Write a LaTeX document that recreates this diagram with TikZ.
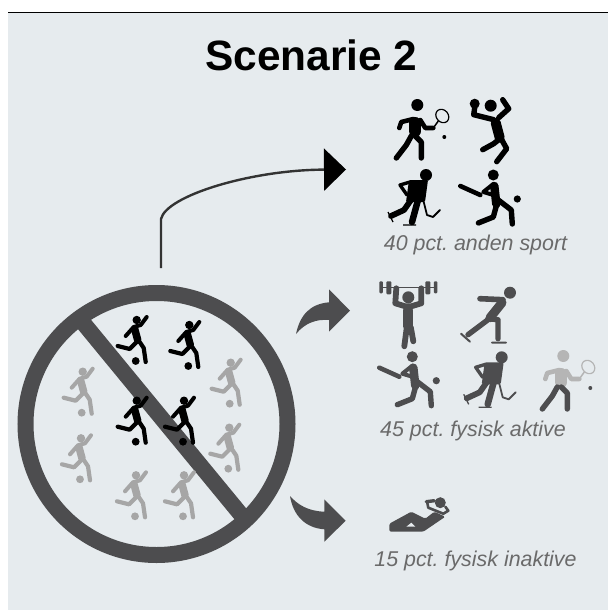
\documentclass[tikz,border=0pt]{standalone}
\usepackage{fontspec}
\setmainfont{Liberation Sans}
\usetikzlibrary{arrows.meta}
\definecolor{panelbg}{HTML}{E6EBEE}
\definecolor{darkgrey}{HTML}{4D4D4F}
\definecolor{midgrey}{HTML}{A6A6A6}
\definecolor{lightgrey}{HTML}{B5B5B5}
\definecolor{labelgrey}{HTML}{6A6A6A}
\tikzset{
  limb/.style={line width=#1,line cap=round,line join=round},
  limb/.default=4.5pt,
  blockarrow/.style={fill=darkgrey,draw=none},
  caption/.style={font=\fontsize{21.4}{25}\selectfont\itshape\frenchspacing,text=labelgrey,anchor=base,inner sep=0pt},
  footballer/.pic={
    \fill[pic actions] (0,0) circle (4.2) (-1,41) circle (3.9);
    \draw[limb=4pt,pic actions] (-11,16) -- (-3,7) -- (4,5) -- (10,-3);
    \draw[limb=7.5pt,pic actions] (-2,9) -- (1,20);
    \draw[limb=4.2pt,pic actions] (-19,26) -- (-7,29) -- (0,22);
    \draw[limb=4.2pt,pic actions] (3,22) -- (7,28) -- (9,42);
  },
  pics/tennis/.style 2 args={code={
    \fill[#1] (0,0) circle (6);
    \draw[limb=12pt,#1] (-2,18) -- (-2,26);
    \draw[limb=4.6pt,#1] (-4,14) -- (-16,17) -- (-18,23);
    \draw[limb=4.6pt,#1] (3,15) -- (8,23) -- (16,23);
    \draw[line width=1.5pt,#1] (16,23) -- (21,16);
    \draw[line width=1.2pt,#1,rotate around={40:(25,11)}] (25,11) ellipse (6 and 7.2);
    \fill[#2] (27,32) circle (2);
    \draw[limb=5.4pt,#2] (-6,31) -- (-11,40) -- (-21,53);
    \draw[limb=5.4pt,#2] (-2,31) -- (4,37) -- (4,53);
  }},
  volley/.pic={
    \fill[pic actions] (0,0) circle (6) (-16,-2) circle (5);
    \draw[limb=5.4pt,pic actions] (3,14) -- (-17,9) -- (-16,2);
    \draw[limb=5.4pt,pic actions] (8,12) -- (18,3) -- (12,-6);
    \draw[limb=10pt,pic actions] (5,17) -- (9,32);
    \draw[limb=5.4pt,pic actions] (8,34) -- (3,38) -- (-8,44);
    \draw[limb=5.4pt,pic actions] (11,34) -- (16,43) -- (6,56);
  },
  hockey/.pic={
    \fill[pic actions] (0,0) circle (6);
    \fill[pic actions,rounded corners=1.5pt] (-17,5) -- (2,5) -- (-1,27) -- (-20,27) -- cycle;
    \draw[limb=3.4pt,pic actions] (-16,7) -- (-26,10) -- (-19,20);
    \draw[limb=5.8pt,pic actions] (-15,25) -- (-22,35) -- (-35,41);
    \draw[limb=6.5pt,pic actions] (-8,25) -- (-14,47);
    \draw[line width=1.3pt,pic actions] (-38,37) -- (-33,47) (-23,50) -- (-10,50);
    \draw[limb=1.8pt,pic actions] (-6,12) -- (1,40) -- (7,42) -- (14,35);
  },
  batter/.pic={
    \fill[pic actions] (0,0) circle (5.5) (24,24) circle (3.6);
    \draw[limb=4.6pt,pic actions] (-33,11) -- (-13,20);
    \draw[limb=4pt,pic actions] (0,9) -- (-10,17) -- (0,20);
    \draw[limb=8.5pt,pic actions] (1,11) -- (3,29);
    \draw[limb=5.4pt,pic actions] (3,31) -- (0,42) -- (-15,48);
    \draw[limb=5.4pt,pic actions] (5,25) -- (18,35) -- (19,49);
  },
  lifter/.pic={
    \fill[pic actions] (0,0) circle (6);
    \draw[line width=1.2pt,pic actions] (-28,-10) -- (29,-10);
    \fill[pic actions,rounded corners=1pt] (-29,-16) rectangle (-25.5,-4) (-22,-16) rectangle (-17,-3)
      (17,-16) rectangle (22,-3) (25.5,-16) rectangle (29,-4);
    \draw[limb=5.8pt,pic actions] (-12,-9) -- (-13,6) -- (-3,9) -- (3,9) -- (13,6) -- (13,-9);
    \draw[limb=10pt,pic actions] (0,13) -- (0,29);
    \draw[limb=5.8pt,pic actions] (-1.5,30) -- (-4,49);
    \draw[limb=5.8pt,pic actions] (2.5,30) -- (5,44);
  },
  skater/.pic={
    \fill[pic actions] (0,0) circle (6);
    \draw[limb=5.6pt,pic actions] (-30,6) -- (-7,7);
    \draw[limb=9pt,pic actions] (-8,10) -- (-20,25);
    \draw[limb=5.4pt,pic actions] (-22,27) -- (-42,42);
    \draw[limb=5.4pt,pic actions] (-22,26) -- (-12,27) -- (-12,46);
    \draw[limb=2pt,pic actions] (-49,41) -- (-40,49) (-18,50) -- (-4,50);
  },
  resting/.pic={
    \fill[pic actions] (0,0) circle (5.5);
    \fill[pic actions,rounded corners=1.5pt] (-51,21) -- (-29,9) -- (-15,16) -- (-6,9) -- (5,14) -- (-17,29) -- (-51,29) -- cycle;
    \fill[panelbg] (-34,24) -- (-29,20) -- (-25,24) -- cycle;
    \draw[limb=2.6pt,pic actions] (-13,0) -- (-12,5) -- (3,11) -- (8,8) -- (5,4);
    \draw[limb=3.4pt,pic actions] (-14,-1) -- (-6,-2);
  },
}
\begin{document}
\begin{tikzpicture}[x=1pt,y=-1pt]
\useasboundingbox (0,0) rectangle (608,610);
\fill[panelbg] (8,13) rectangle (608,610);
\coordinate (topleft) at (8,13);
\coordinate (topright) at (608,13);
\draw[line width=1pt] (topleft) -- (topright);

\node[font=\fontsize{42.4}{50}\selectfont\bfseries,anchor=base,inner sep=0pt] (title) at (311.5,70.3) {Scenarie 2};

% forbidden sign
\draw[darkgrey,line width=16pt] (80,319) -- (245,519.5);
\draw[darkgrey,line width=16pt] (156.5,424) circle (131);

\foreach \px/\py [count=\i] in {82.7/371.7,81/438.3,136/475.3,184/475.3,230.7/362.7,229.3/427.7}
  \pic[color=midgrey] (grey\i) at (\px,\py) {footballer};
\foreach \px/\py [count=\i] in {136.7/320,189.3/325,136.7/400.7,184/400.7}
  \pic[color=black] (black\i) at (\px,\py) {footballer};

% connector
\coordinate (start) at (161,268);
\coordinate (bend) at (161,219);
\coordinate (sporttip) at (346,169.5);
\draw[line width=2.4pt,draw=black!80,-{Triangle[length=22pt,width=42.5pt,fill=black,color=black,line width=0pt]}] (start) -- (bend)
  .. controls (166,196) and (250,170) .. (sporttip);

% bent arrows
\fill[blockarrow] (296,334) .. controls (300,315) and (310,304) .. (329,302.3) -- (329,289.3) -- (350,310.7)
  -- (329,331.7) -- (329,320) .. controls (316,319) and (305,323) .. cycle;
\fill[blockarrow] (290,496) .. controls (298,505) and (308,511) .. (324.3,511.7) -- (324.3,499.3) -- (345.7,520.7)
  -- (324.3,541.7) -- (324.3,529.3) .. controls (305,528) and (293,515) .. cycle;

% first group
\pic (tennis1) at (417.3,105) {tennis={black}{black}};
\pic[color=black] (volley1) at (490.7,105.7) {volley};
\pic[color=black] (hockey1) at (426,175) {hockey};
\pic[color=black] (batter1) at (493.3,175) {batter};
\node[caption] (anden) at (475.5,250.7) {40 pct. anden sport};

% second group
\pic[color=darkgrey] (lifter2) at (408.3,297.3) {lifter};
\pic[color=darkgrey] (skater2) at (510,292.7) {skater};
\pic[color=darkgrey] (batter2) at (412.3,356.7) {batter};
\pic[color=darkgrey] (hockey2) at (501.7,357.3) {hockey};
\pic (tennis2) at (563.3,356) {tennis={lightgrey}{darkgrey}};
\node[caption] (aktive) at (473,436) {45 pct. fysisk aktive};

% third group
\pic[color=darkgrey] (resting3) at (440.3,502.7) {resting};
\node[caption] (inaktive) at (475.5,566.7) {15 pct. fysisk inaktive};
\end{tikzpicture}
\end{document}
